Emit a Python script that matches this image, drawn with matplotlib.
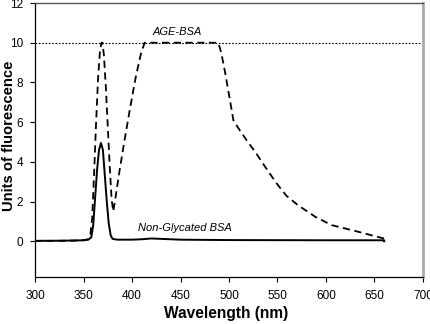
import matplotlib
matplotlib.use("Agg")
import matplotlib.pyplot as plt
import numpy as np

plt.rcParams['font.family'] = ['Liberation Sans', 'DejaVu Sans']

# AGE-BSA (dashed)
age_wl = [300, 320, 340, 350, 355, 357, 359, 361, 363, 365, 367, 368.5, 369.5, 371, 373, 375, 377, 379, 380.7,
          383, 387, 392, 398, 404, 409, 413, 420, 450, 480, 489, 492, 496, 501, 504.5, 509.6, 518, 527, 537,
          549, 559, 571, 589, 606, 630, 647, 658, 660, 660]
age_val = [0.02, 0.02, 0.03, 0.05, 0.1, 0.3, 1.2, 3.5, 6.0, 8.2, 9.6, 10.0, 10.0, 9.4, 7.8, 5.8, 3.8, 2.1, 1.5,
           2.2, 3.5, 5.0, 6.7, 8.3, 9.4, 10.0, 10.0, 10.0, 10.0, 10.0, 9.5, 8.5, 7.1, 6.1, 5.7, 5.1, 4.5, 3.77,
           2.92, 2.3, 1.82, 1.23, 0.81, 0.52, 0.3, 0.16, 0.14, 0.05]

# Non-Glycated BSA (solid)
ng_wl = [300, 330, 350, 355, 358, 360, 362, 364, 366, 368, 370, 372, 374, 376, 378, 380, 385, 400,
         410, 420, 430, 450, 500, 600, 660, 660]
ng_val = [0.02, 0.03, 0.05, 0.08, 0.2, 0.8, 2.2, 3.6, 4.6, 4.95, 4.6, 3.3, 2.0, 0.9, 0.3, 0.12, 0.08, 0.08,
          0.1, 0.14, 0.12, 0.08, 0.06, 0.05, 0.05, 0.0]

xticks = [300, 350, 400, 450, 500, 550, 600, 650, 700]
yticks = [0, 2, 4, 6, 8, 10, 12]

W, H = 431, 324
fig = plt.figure(figsize=(W/100, H/100), dpi=100)
ax = fig.add_axes([35/W, 1 - 277/H, (423-35)/W, (277-3)/H])

ax.axhline(10, color='black', lw=0.8, ls=(0, (1.5, 1.5)), zorder=1)
ax.plot(age_wl, age_val, color='black', lw=1.3, ls=(0, (4, 2.5)), zorder=3)
ax.plot(ng_wl, ng_val, color='black', lw=1.4, zorder=3)

ax.set_xlim(300, 700)
ax.set_ylim(-1.8, 12)
ax.set_xticks(xticks)
ax.set_yticks(yticks)
ax.tick_params(axis='both', direction='out', length=3.5, width=0.8, labelsize=8.5, colors='black')
ax.tick_params(axis='x', pad=6)
ax.tick_params(axis='y', pad=5)

ax.spines['left'].set_color('black')
ax.spines['left'].set_linewidth(0.9)
ax.spines['bottom'].set_color('black')
ax.spines['bottom'].set_linewidth(0.9)
ax.spines['top'].set_color('#555555')
ax.spines['top'].set_linewidth(1.0)
ax.spines['right'].set_color('#aaaaaa')
ax.spines['right'].set_linewidth(2.0)

ax.text(421.5, 10.53, 'AGE-BSA', fontsize=8, style='italic', ha='left', va='center')
ax.text(406, 0.66, 'Non-Glycated BSA', fontsize=8, style='italic', ha='left', va='center')

fig.text(226/W, 1 - 318/H, 'Wavelength (nm)', fontsize=11.2, fontweight='bold',
         ha='center', va='baseline')
fig.text(9/W, 1 - 136/H, 'Units of fluorescence', fontsize=10.6, fontweight='bold',
         ha='center', va='center', rotation=90)

fig.savefig('out.png', dpi=100)
